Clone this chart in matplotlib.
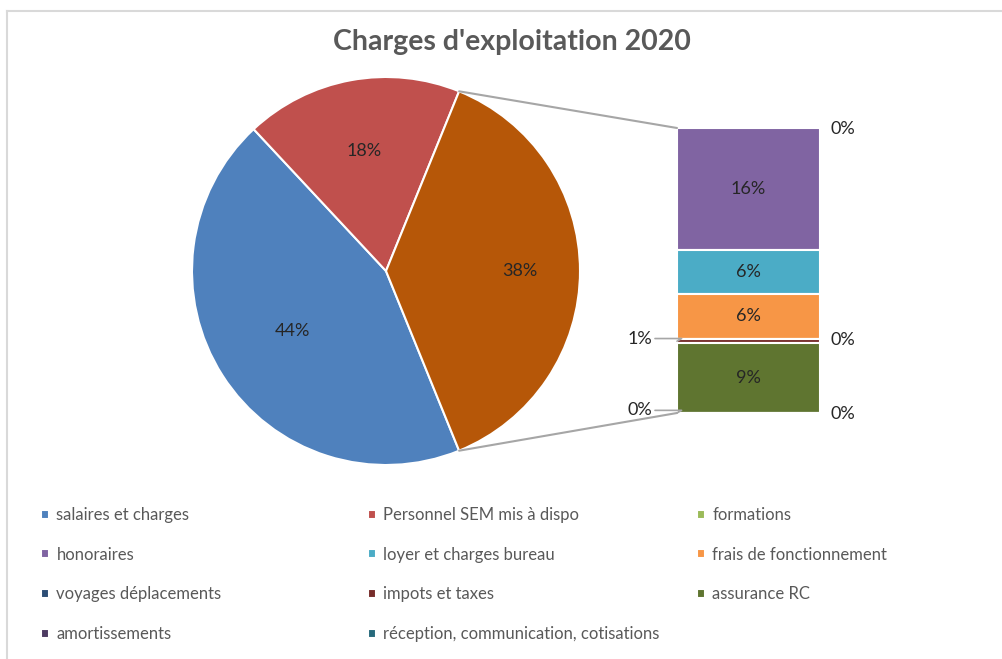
import matplotlib
matplotlib.use("Agg")
import matplotlib.pyplot as plt
from matplotlib.patches import ConnectionPatch
from matplotlib.lines import Line2D
import numpy as np

plt.rcParams['font.family'] = ['Lato', 'DejaVu Sans']

# -------------------------
# données (% du total)
# -------------------------
pie_labels = ["salaires et charges", "Personnel SEM mis à dispo"]
pie_values = [44.2, 18.1]
pie_colors = ["#4F81BD", "#C0504D"]

bar_labels = ["formations", "honoraires", "loyer et charges bureau",
              "frais de fonctionnement", "voyages déplacements",
              "impots et taxes", "assurance RC", "amortissements",
              "réception, communication, cotisations"]
bar_values = [0, 16.2, 5.7, 6.0, 0, 0.6, 9.2, 0, 0]
bar_colors = ["#9BBB59", "#8064A2", "#4BACC6", "#F79646", "#2C4D75",
              "#772C2A", "#5F7530", "#4D3B62", "#276A7C"]
# position des étiquettes hors barre (petites valeurs)
bar_label_side = ["right", None, None, None, "right", "left", None, "left", "right"]

other_color = "#B65708"
grey_txt = "#595959"
line_grey = "#A6A6A6"
lbl_size = 13

W, H = 1003, 659
fig = plt.figure(figsize=(W / 100, H / 100), dpi=100)

# -------------------------
# camembert
# -------------------------
total_bar = sum(bar_values)
values = pie_values + [total_bar]
colors = pie_colors + [other_color]
cx, cy, r = 386, 271, 194
ax_pie = fig.add_axes([(cx - r) / W, (H - cy - r) / H, 2 * r / W, 2 * r / H])
# sens horaire, la part "autres" centrée à droite
start = 360 * total_bar / 100 / 2 + 360 * sum(pie_values) / 100
wedges, _, autotexts = ax_pie.pie(values, colors=colors, startangle=start,
                                  counterclock=False, autopct='%1.0f%%',
                                  pctdistance=0.65,
                                  wedgeprops=dict(edgecolor="white", linewidth=1.5),
                                  textprops=dict(fontsize=lbl_size, color="#262626"))
# position "best fit" approximative des étiquettes
pct_dist = [0.57, 0.63, 0.69]
for w, t, d in zip(wedges, autotexts, pct_dist):
    a = np.deg2rad((w.theta1 + w.theta2) / 2)
    t.set_position((d * np.cos(a), d * np.sin(a)))
ax_pie.set_xlim(-1, 1)
ax_pie.set_ylim(-1, 1)
ax_pie.set_aspect("equal")
ax_pie.axis("off")

# -------------------------
# barre
# -------------------------
bx0, bx1, by0, by1 = 677, 820, 128, 413
ax_bar = fig.add_axes([bx0 / W, (H - by1) / H, (bx1 - bx0) / W, (by1 - by0) / H])
bottoms = np.concatenate([[0], np.cumsum(bar_values)[:-1]])
bars = ax_bar.bar(0, bar_values, width=1, bottom=bottoms, color=bar_colors,
                  edgecolor="white", linewidth=1.5)
ax_bar.set_xlim(-0.5, 0.5)
ax_bar.set_ylim(total_bar, 0)
ax_bar.axis("off")

for v, b, side in zip(bar_values, bottoms, bar_label_side):
    txt = f"{v:.0f}%"
    mid = b + v / 2
    if side is None:
        ax_bar.text(0, mid, txt, ha="center", va="center", fontsize=lbl_size, color="#262626")
    elif side == "right":
        ax_bar.text(0.66, mid + 0.15, txt, ha="center", va="center", fontsize=lbl_size,
                    color="#262626")
    else:
        ax_bar.annotate(txt, xy=(-0.5, mid), xytext=(-0.76, mid - 0.35),
                        ha="center", va="center", fontsize=lbl_size, color="#262626",
                        arrowprops=dict(arrowstyle="-", color=line_grey, lw=1.2,
                                        shrinkA=0, shrinkB=0,
                                        connectionstyle="angle,angleA=0,angleB=30,rad=0"),
                        annotation_clip=False)

# lignes de liaison
other = wedges[-1]
for ang, yb in [(other.theta2, 0), (other.theta1, total_bar)]:
    t = np.deg2rad(ang)
    con = ConnectionPatch(xyA=(np.cos(t), np.sin(t)), coordsA=ax_pie.transData,
                          xyB=(-0.5, yb), coordsB=ax_bar.transData,
                          color=line_grey, lw=1.5)
    fig.add_artist(con)

# -------------------------
# titre, légende, cadre
# -------------------------
fig.text(512 / W, 1 - 42 / H, "Charges d'exploitation 2020", ha="center", va="center",
         fontsize=20.5, fontweight="bold", color=grey_txt)

handles = list(wedges[:2]) + list(bars.patches)
labels = pie_labels + bar_labels
col_x = [41.5, 368.5, 697.5]
for i in range(3):
    leg = fig.legend(handles[i::3], labels[i::3], loc="upper left",
                     bbox_to_anchor=(col_x[i] / W, 1 - 507 / H), frameon=False,
                     fontsize=12, handlelength=0.45, handleheight=0.45,
                     handletextpad=0.45, labelspacing=1.42, borderpad=0,
                     borderaxespad=0, labelcolor=grey_txt)

fig.add_artist(Line2D([7.5 / W, 1], [1 - 10.5 / H, 1 - 10.5 / H], color="#D9D9D9", lw=1.5))
fig.add_artist(Line2D([7.5 / W, 7.5 / W], [0, 1 - 10.5 / H], color="#D9D9D9", lw=1.5))

fig.savefig("out.png", dpi=100, facecolor="white")
